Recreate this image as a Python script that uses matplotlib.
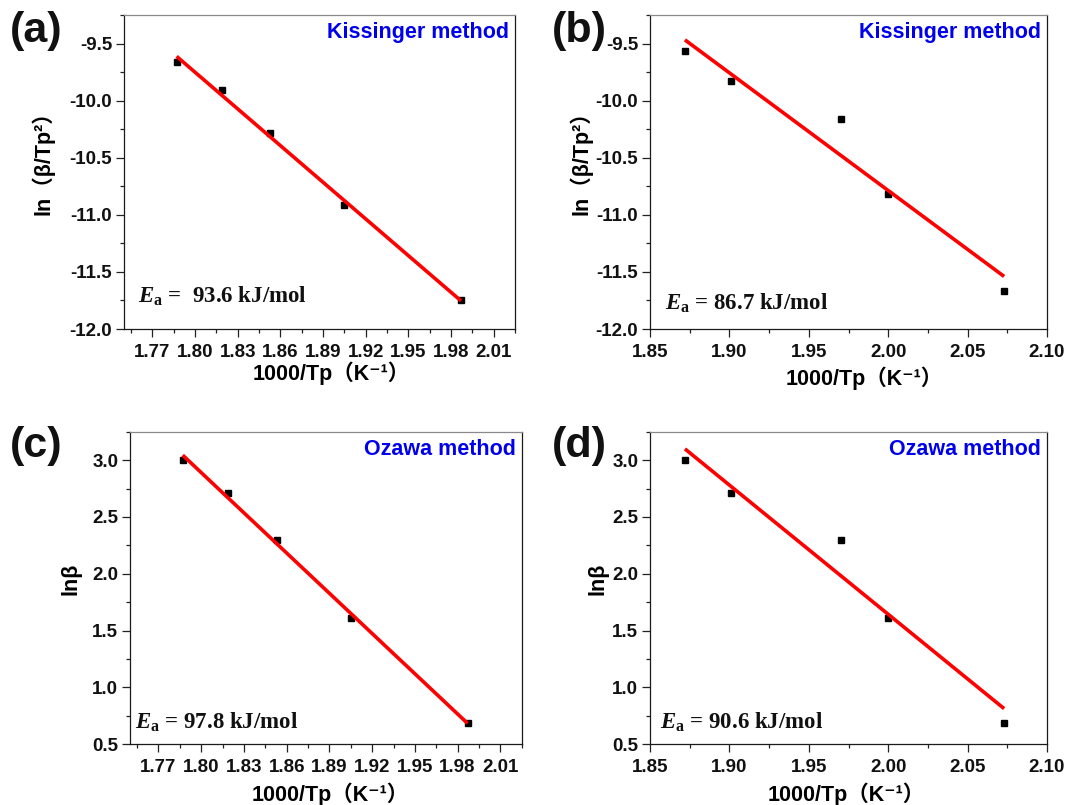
import matplotlib
matplotlib.use("Agg")
import matplotlib.pyplot as plt
import numpy as np
from matplotlib.ticker import MultipleLocator, FormatStrFormatter

# ---------------- data ----------------
x_ac = [1.787, 1.819, 1.853, 1.905, 1.987]          # 1000/Tp, panels (a),(c)
kis_a = [-9.66, -9.91, -10.28, -10.915, -11.75]      # ln(beta/Tp^2), panel (a)
oz_c = [3.00, 2.71, 2.30, 1.61, 0.69]                # ln(beta), panel (c)
x_bd = [1.872, 1.901, 1.970, 2.000, 2.073]           # 1000/Tp, panels (b),(d)
kis_b = [-9.565, -9.83, -10.16, -10.82, -11.665]     # ln(beta/Tp^2), panel (b)
oz_d = [3.00, 2.71, 2.30, 1.61, 0.69]                # ln(beta), panel (d)

panel_tags = ["(a)", "(b)", "(c)", "(d)"]
methods = ["Kissinger method", "Kissinger method", "Ozawa method", "Ozawa method"]
ea_texts = [r"$\mathit{E}_{\mathrm{a}}$ =  93.6 kJ/mol",
            r"$\mathit{E}_{\mathrm{a}}$ = 86.7 kJ/mol",
            r"$\mathit{E}_{\mathrm{a}}$ = 97.8 kJ/mol",
            r"$\mathit{E}_{\mathrm{a}}$ = 90.6 kJ/mol"]
ylabels = ["ln（β/Tp²）", "ln（β/Tp²）", "lnβ", "lnβ"]
xlabel = "1000/Tp（K⁻¹）"

plt.rcParams["mathtext.fontset"] = "custom"
plt.rcParams["mathtext.rm"] = "Liberation Serif:bold"
plt.rcParams["mathtext.it"] = "Liberation Serif:italic:bold"
plt.rcParams["mathtext.bf"] = "Liberation Serif:bold"

W, H = 1068, 805
fig = plt.figure(figsize=(W / 100, H / 100), dpi=100)

# axes boxes in pixels: left, top, right, bottom
boxes = [(124, 15, 515, 329), (650, 15, 1047, 329),
         (130, 431.7, 521.7, 744.3), (650, 431.7, 1047, 744.3)]

sans = ["Liberation Sans", "Noto Sans CJK SC", "DejaVu Sans"]

datasets = [(x_ac, kis_a), (x_bd, kis_b), (x_ac, oz_c), (x_bd, oz_d)]
xlims = [(1.75, 2.025), (1.85, 2.10), (1.75, 2.025), (1.85, 2.10)]
ylims = [(-12.0, -9.25), (-12.0, -9.25), (0.5, 3.25), (0.5, 3.25)]
ylabel_x = [-0.179, -0.146, -0.125, -0.104]
ylabel_y = [0.545, 0.545, 0.53, 0.53]
xlabel_pos = [(0.53, -0.105), (0.54, -0.12), (0.51, -0.122), (0.495, -0.122)]
ea_pos = [(14, 26), (15, 19), (5, 16), (10, 16)]   # px from left, baseline px above bottom
tag_pos = [(10, 11), (552, 11), (10, 426), (552, 426)]

for i, (l, t, r, b) in enumerate(boxes):
    ax = fig.add_axes([l / W, 1 - b / H, (r - l) / W, (b - t) / H])
    xs, ys = datasets[i]
    xs = np.array(xs)
    ys = np.array(ys)
    ax.plot(xs, ys, "s", color="black", ms=4.8, zorder=3)
    k, c0 = np.polyfit(xs, ys, 1)
    xf = np.array([xs.min(), xs.max()])
    ax.plot(xf, k * xf + c0, "-", color="#ff0000", lw=2.6, zorder=4,
            solid_capstyle="butt")
    ax.set_xlim(*xlims[i])
    ax.set_ylim(*ylims[i])

    if i in (0, 2):
        ax.set_xticks(np.round(np.arange(1.77, 2.0101, 0.03), 2))
        ax.xaxis.set_minor_locator(MultipleLocator(0.015))
    else:
        ax.xaxis.set_major_locator(MultipleLocator(0.05))
        ax.xaxis.set_minor_locator(MultipleLocator(0.025))
    ax.xaxis.set_major_formatter(FormatStrFormatter("%.2f"))
    ax.yaxis.set_major_locator(MultipleLocator(0.5))
    ax.yaxis.set_minor_locator(MultipleLocator(0.25))
    ax.yaxis.set_major_formatter(FormatStrFormatter("%.1f"))

    ax.tick_params(which="both", direction="out", top=False, right=False,
                   colors="#222222", width=0.9)
    ax.tick_params(which="major", length=5.5)
    ax.tick_params(which="minor", length=3)
    ax.tick_params(axis="x", which="major", pad=5)
    ax.tick_params(axis="y", which="major", pad=3)
    for lab in ax.get_xticklabels() + ax.get_yticklabels():
        lab.set_fontfamily(sans)
        lab.set_fontweight("bold")
        lab.set_fontsize(13.5)
        lab.set_color("#111111")

    for side in ("left", "right", "bottom"):
        ax.spines[side].set_color("#1a1a1a")
        ax.spines[side].set_linewidth(0.9)
    ax.spines["top"].set_color("#8a8a8a")
    ax.spines["top"].set_linewidth(0.9)

    ax.set_ylabel(ylabels[i], family=sans, fontweight="bold", fontsize=15.5)
    ax.yaxis.set_label_coords(ylabel_x[i], ylabel_y[i])
    ax.set_xlabel(xlabel, family=sans, fontweight="bold", fontsize=15.5, va="top")
    ax.xaxis.set_label_coords(*xlabel_pos[i])

    ax.annotate(methods[i], xy=(1, 1), xycoords="axes fraction",
                xytext=(-4.3, -5), textcoords="offset points",
                ha="right", va="top", color="#0000ee", family=sans,
                fontweight="bold", fontsize=15.5)

    px, py = ea_pos[i]
    ax.text(px / (r - l), py / (b - t), ea_texts[i], transform=ax.transAxes,
            family="Liberation Serif", fontweight="bold", fontsize=16.5,
            ha="left", va="baseline", color="#111111")

    tx, ty = tag_pos[i]
    fig.text(tx / W, 1 - ty / H, panel_tags[i], family=sans, fontweight="bold",
             fontsize=31, ha="left", va="top", color="#111111")

fig.savefig("out.png", dpi=100)
